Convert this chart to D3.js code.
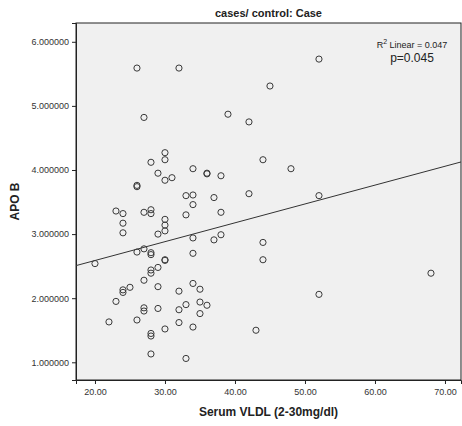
<!DOCTYPE html>
<html>
<head>
<meta charset="utf-8">
<script src="https://cdn.jsdelivr.net/npm/d3@7"></script>
<style>
  body { margin: 0; background: #fff; }
  text { font-family: "Liberation Sans", Arial, sans-serif; }
</style>
</head>
<body>
<div id="container"></div>
<script>
/* CONSTANTS AND GLOBALS */
const width = 462,
  height = 426,
  margin = { top: 23, bottom: 46, left: 76, right: 1 };

/* DATA */
// Serum VLDL values
const vldl = [
  26, 32, 27, 30, 28, 30, 34, 36, 36, 29, 26, 26, 30, 31, 33, 34,
  39, 42, 45, 38, 44, 48, 34, 33, 23, 24, 27, 28, 28, 24, 24, 30,
  30, 30, 29, 34, 27, 26, 28, 28, 30, 30, 20, 34, 29, 28, 28, 27,
  29, 25, 24, 24, 23, 32, 34, 35, 33, 32, 35, 36, 35, 27, 27, 29,
  22, 26, 32, 34, 30, 28, 28, 28, 33, 37, 42, 38, 37, 38, 44, 44,
  43, 52, 52, 68, 52
];
// APO B values
const apoB = [
  5.59, 5.59, 4.82, 4.27, 4.12, 4.16, 4.02, 3.95, 3.94, 3.95, 3.76, 3.74, 3.84, 3.88, 3.60, 3.61,
  4.87, 4.75, 5.31, 3.91, 4.16, 4.02, 3.46, 3.30, 3.36, 3.32, 3.34, 3.38, 3.32, 3.17, 3.02, 3.23,
  3.14, 3.05, 3.00, 2.94, 2.77, 2.72, 2.71, 2.68, 2.60, 2.59, 2.54, 2.70, 2.48, 2.44, 2.39, 2.28,
  2.18, 2.17, 2.13, 2.09, 1.95, 2.11, 2.23, 2.14, 1.90, 1.82, 1.94, 1.89, 1.76, 1.85, 1.80, 1.84,
  1.63, 1.66, 1.62, 1.55, 1.52, 1.45, 1.41, 1.13, 1.06, 3.57, 3.63, 3.34, 2.91, 2.99, 2.87, 2.60,
  1.50, 5.73, 3.60, 2.39, 2.06
];

// linear fit shown on the chart
const fitIntercept = 2.0,
  fitSlope = 0.0294;

const xTicks = [20, 30, 40, 50, 60, 70];
const yTicks = [1, 2, 3, 4, 5, 6];

const title = "cases/ control: Case";
const xLabel = "Serum VLDL (2-30mg/dl)";
const yLabel = "APO B";

const data = vldl.map((v, i) => ({ vldl: v, apoB: apoB[i] }));

/* SCALES */
const xScale = d3.scaleLinear()
  .domain([17.29, 72.29])
  .range([margin.left, width - margin.right]);

const yScale = d3.scaleLinear()
  .domain([0.724, 6.293])
  .range([height - margin.bottom, margin.top]);

const svg = d3.select("#container")
  .append("svg")
  .attr("width", width)
  .attr("height", height);

// plot background
svg.append("rect")
  .attr("x", margin.left)
  .attr("y", margin.top)
  .attr("width", width - margin.right - margin.left)
  .attr("height", height - margin.bottom - margin.top)
  .attr("fill", "#f0f0f0")
  .attr("stroke", "#222")
  .attr("stroke-width", 1);

/* AXES */
const xAxis = d3.axisBottom(xScale)
  .tickValues(xTicks)
  .tickSize(4)
  .tickFormat(d3.format(".2f"));

const yAxis = d3.axisLeft(yScale)
  .tickValues(yTicks)
  .tickSize(4)
  .tickFormat(d3.format(".6f"));

const xAxisGroup = svg.append("g")
  .attr("transform", `translate(0, ${height - margin.bottom})`)
  .call(xAxis);

const yAxisGroup = svg.append("g")
  .attr("transform", `translate(${margin.left}, 0)`)
  .call(yAxis);

[xAxisGroup, yAxisGroup].forEach(g => {
  g.select(".domain").attr("stroke", "#222");
  g.selectAll(".tick line").attr("stroke", "#222");
  g.selectAll(".tick text")
    .attr("fill", "#333")
    .style("font-family", '"Liberation Sans", Arial, sans-serif')
    .style("font-size", "9px");
});
xAxisGroup.selectAll(".tick text").attr("dy", "0.85em");

/* FIT LINE */
const xd = xScale.domain();
svg.append("line")
  .attr("x1", xScale(xd[0]))
  .attr("y1", yScale(fitIntercept + fitSlope * xd[0]))
  .attr("x2", xScale(xd[1]))
  .attr("y2", yScale(fitIntercept + fitSlope * xd[1]))
  .attr("stroke", "#333")
  .attr("stroke-width", 1);

/* POINTS */
svg.append("g")
  .selectAll("circle")
  .data(data)
  .join("circle")
  .attr("cx", d => xScale(d.vldl))
  .attr("cy", d => yScale(d.apoB))
  .attr("r", 3.1)
  .attr("fill", "none")
  .attr("stroke", "#3a3a3a")
  .attr("stroke-width", 1);

/* TEXT */
svg.append("text")
  .attr("x", (margin.left + width - margin.right) / 2)
  .attr("y", 17)
  .attr("text-anchor", "middle")
  .style("font-size", "11px")
  .style("font-weight", "bold")
  .attr("fill", "#222")
  .text(title);

svg.append("text")
  .attr("x", (margin.left + width - margin.right) / 2)
  .attr("y", 416)
  .attr("text-anchor", "middle")
  .style("font-size", "12px")
  .style("font-weight", "bold")
  .attr("fill", "#222")
  .text(xLabel);

svg.append("text")
  .attr("transform", `translate(19, ${(margin.top + height - margin.bottom) / 2}) rotate(-90)`)
  .attr("text-anchor", "middle")
  .style("font-size", "12px")
  .style("font-weight", "bold")
  .attr("fill", "#222")
  .text(yLabel);

const r2 = svg.append("text")
  .attr("x", 412)
  .attr("y", 48)
  .attr("text-anchor", "middle")
  .style("font-size", "9px")
  .attr("fill", "#222");
r2.append("tspan").text("R");
r2.append("tspan").attr("dy", -4).style("font-size", "7px").text("2");
r2.append("tspan").attr("dy", 4).text(" Linear = 0.047");

svg.append("text")
  .attr("x", 412)
  .attr("y", 62)
  .attr("text-anchor", "middle")
  .style("font-size", "12px")
  .attr("fill", "#222")
  .text("p=0.045");
</script>
</body>
</html>
